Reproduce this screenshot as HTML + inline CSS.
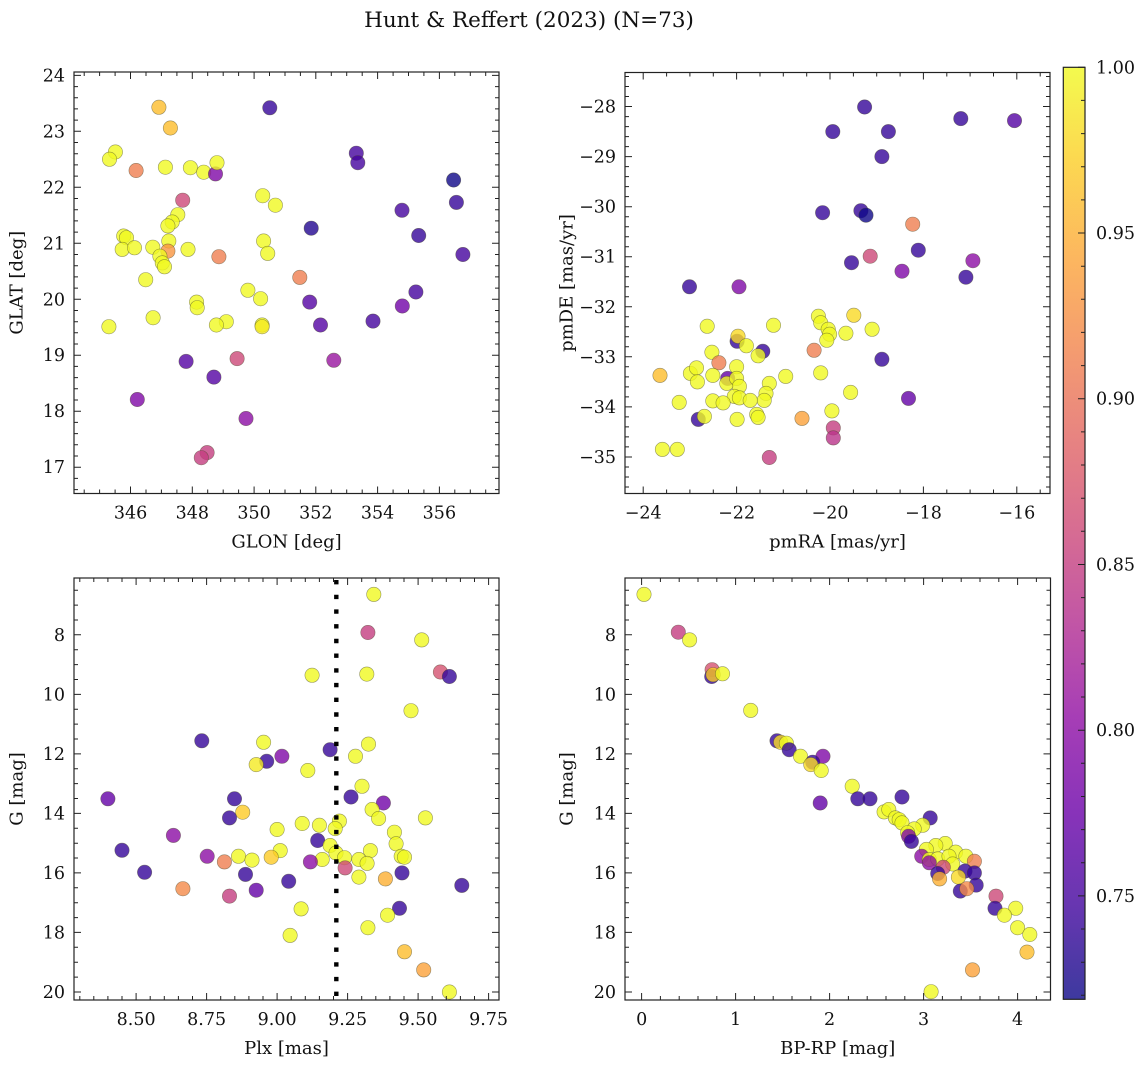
<!DOCTYPE html>
<html><head><meta charset="utf-8"><style>
html,body{margin:0;padding:0;background:#fff;}
svg{display:block;font-family:"DejaVu Serif","Liberation Serif",serif;}
</style></head><body>
<svg id="fig" width="1148" height="1067" viewBox="0 0 1148 1067" xmlns="http://www.w3.org/2000/svg">
<text x="529" y="27" font-size="21.5" text-anchor="middle" fill="#111">Hunt &amp; Reffert (2023) (N=73)</text>
</svg>
<script>
// ---- Panel 1: GLON / GLAT ----
const p1Glon=[346.92,350.51,347.29,345.51,345.32,353.31,353.36,346.18,347.13,347.94,348.37,348.75,348.80,356.46,350.28,350.69,347.69,356.55,354.79,347.53,347.35,347.21,351.85,355.33,345.78,345.87,347.24,350.31,345.73,346.13,346.72,347.21,347.86,350.44,356.76,348.86,346.95,347.03,347.10,351.48,346.49,349.80,350.21,355.24,351.80,348.14,348.16,354.80,346.73,349.10,348.78,350.26,350.26,352.15,353.85,345.30,347.80,349.45,352.58,348.70,346.22,349.74,348.48,348.29];
const p1Glat=[23.43,23.42,23.06,22.63,22.50,22.61,22.44,22.30,22.36,22.35,22.27,22.24,22.44,22.13,21.85,21.68,21.77,21.73,21.59,21.51,21.38,21.31,21.27,21.14,21.13,21.10,21.04,21.04,20.89,20.92,20.93,20.86,20.89,20.82,20.80,20.76,20.77,20.65,20.58,20.39,20.35,20.16,20.01,20.13,19.95,19.95,19.85,19.88,19.67,19.60,19.54,19.54,19.51,19.54,19.61,19.51,18.89,18.94,18.91,18.61,18.21,17.87,17.26,17.17];
const p1Prob=[0.96,0.74,0.96,1.0,1.0,0.75,0.75,0.91,1.0,1.0,1.0,0.79,1.0,0.72,1.0,1.0,0.86,0.74,0.75,1.0,1.0,1.0,0.73,0.74,1.0,1.0,1.0,1.0,1.0,1.0,1.0,0.93,1.0,1.0,0.75,0.91,1.0,1.0,1.0,0.91,1.0,1.0,1.0,0.75,0.76,1.0,1.0,0.78,1.0,1.0,1.0,1.0,0.99,0.76,0.75,1.0,0.76,0.86,0.81,0.76,0.79,0.80,0.85,0.85];
// ---- Panel 2: pmRA / pmDE ----
const p2Pmra=[-19.26,-19.94,-18.75,-17.20,-16.05,-18.89,-20.16,-19.34,-19.23,-18.23,-19.14,-18.11,-19.54,-18.46,-16.94,-17.09,-23.01,-21.95,-20.25,-20.20,-19.49,-22.63,-21.21,-20.04,-20.01,-19.66,-19.10,-20.07,-21.99,-21.97,-21.79,-21.44,-21.54,-22.53,-20.34,-18.89,-22.38,-23.64,-22.99,-22.86,-22.51,-22.00,-22.84,-22.19,-22.21,-22.00,-21.94,-21.30,-20.95,-20.20,-22.05,-21.94,-21.37,-21.41,-21.71,-22.51,-22.29,-23.23,-19.56,-18.32,-19.96,-22.82,-22.69,-21.57,-21.54,-21.99,-20.60,-19.93,-19.93,-23.59,-23.27,-21.30];
const p2Pmde=[-28.01,-28.50,-28.50,-28.24,-28.28,-29.00,-30.12,-30.08,-30.17,-30.35,-30.99,-30.87,-31.12,-31.29,-31.08,-31.41,-31.60,-31.60,-32.19,-32.32,-32.17,-32.39,-32.37,-32.45,-32.55,-32.53,-32.45,-32.67,-32.69,-32.59,-32.78,-32.89,-32.98,-32.91,-32.87,-33.05,-33.12,-33.37,-33.33,-33.22,-33.37,-33.20,-33.50,-33.43,-33.53,-33.43,-33.59,-33.53,-33.39,-33.32,-33.79,-33.82,-33.73,-33.87,-33.87,-33.88,-33.92,-33.91,-33.71,-33.83,-34.08,-34.25,-34.19,-34.15,-34.21,-34.25,-34.23,-34.42,-34.62,-34.85,-34.85,-35.01];
const p2Prob=[0.74,0.74,0.74,0.74,0.76,0.74,0.74,0.74,0.72,0.91,0.86,0.74,0.74,0.79,0.80,0.74,0.74,0.79,1.0,1.0,0.98,1.0,1.0,1.0,1.0,1.0,1.0,1.0,0.74,0.98,1.0,0.74,1.0,1.0,0.91,0.74,0.91,0.96,1.0,1.0,1.0,1.0,1.0,0.77,1.0,1.0,1.0,1.0,1.0,1.0,1.0,1.0,1.0,1.0,1.0,1.0,1.0,1.0,1.0,0.77,1.0,0.74,1.0,1.0,1.0,1.0,0.94,0.85,0.84,1.0,1.0,0.85];
// ---- Panel 3: Plx / G ----
const p3Plx=[9.343,9.322,9.513,9.124,9.318,9.579,9.611,9.475,8.733,8.952,9.324,9.188,9.017,8.963,8.926,9.278,9.109,9.301,8.400,8.849,9.262,9.377,9.337,8.878,9.360,9.526,8.831,9.221,9.089,9.150,9.206,9.000,9.416,8.632,9.422,9.144,9.188,9.331,8.450,9.011,9.209,8.752,8.863,8.979,9.239,9.440,9.452,8.911,9.160,9.290,8.813,9.118,9.319,9.241,8.530,9.443,8.888,9.290,9.384,9.041,9.655,8.666,8.926,8.831,9.434,9.085,9.392,9.046,9.322,9.452,9.520,9.611];
const p3G=[6.64,7.92,8.17,9.36,9.32,9.25,9.40,10.55,11.56,11.61,11.67,11.86,12.08,12.25,12.36,12.08,12.56,13.09,13.51,13.51,13.45,13.65,13.87,13.96,14.17,14.15,14.15,14.26,14.34,14.40,14.51,14.54,14.63,14.74,15.02,14.91,15.08,15.25,15.24,15.25,15.33,15.44,15.44,15.47,15.49,15.44,15.47,15.57,15.55,15.55,15.63,15.63,15.68,15.83,15.98,16.00,16.05,16.14,16.20,16.28,16.42,16.53,16.58,16.78,17.19,17.21,17.42,18.10,17.84,18.65,19.26,20.00];
const p3Prob=[1.0,0.85,1.0,1.0,1.0,0.87,0.74,1.0,0.74,1.0,1.0,0.74,0.79,0.74,0.99,1.0,1.0,1.0,0.77,0.74,0.74,0.78,1.0,0.97,1.0,1.0,0.74,1.0,1.0,1.0,1.0,1.0,1.0,0.80,1.0,0.74,1.0,1.0,0.74,1.0,1.0,0.80,1.0,0.97,1.0,1.0,1.0,1.0,1.0,1.0,0.91,0.80,1.0,0.86,0.74,0.74,0.74,1.0,0.95,0.74,0.74,0.92,0.77,0.85,0.74,1.0,1.0,1.0,1.0,0.96,0.94,1.0];
const p3PlxMedian=9.21;
// ---- Panel 4: BP-RP / G ----
const p4Bprp=[0.025,0.39,0.51,0.75,0.745,0.76,0.86,1.16,1.44,1.48,1.54,1.57,1.93,1.69,1.82,1.80,1.91,2.24,2.30,2.43,2.77,1.90,2.58,2.63,2.70,2.74,2.77,3.07,2.99,2.90,2.83,2.84,2.87,3.23,3.13,3.03,3.34,3.45,2.98,3.06,3.15,3.27,3.06,3.31,3.54,3.21,3.15,3.44,3.54,3.37,3.17,3.56,3.39,3.46,3.77,3.76,3.98,3.86,4.00,4.13,4.10,3.52,3.08];
const p4G=[6.64,7.91,8.17,9.17,9.40,9.34,9.31,10.54,11.56,11.61,11.64,11.86,12.08,12.08,12.28,12.36,12.56,13.09,13.51,13.51,13.45,13.65,13.95,13.87,14.15,14.21,14.32,14.15,14.40,14.52,14.65,14.77,14.94,15.01,15.08,15.21,15.30,15.44,15.44,15.55,15.53,15.44,15.66,15.70,15.61,15.81,16.02,15.94,16.00,16.14,16.20,16.41,16.61,16.53,16.78,17.19,17.19,17.42,17.84,18.07,18.66,19.26,19.99];
const p4Prob=[1.0,0.85,1.0,0.87,0.74,0.97,1.0,1.0,0.74,0.98,1.0,0.74,0.79,1.0,0.74,0.98,1.0,1.0,0.74,0.74,0.74,0.77,1.0,1.0,1.0,1.0,1.0,0.74,1.0,1.0,1.0,0.79,0.74,1.0,1.0,1.0,1.0,1.0,0.80,1.0,1.0,1.0,0.80,1.0,0.91,0.86,0.74,0.74,0.74,0.98,0.95,0.74,0.74,0.92,0.86,0.74,1.0,1.0,1.0,1.0,0.96,0.94,1.0];
// ---- Colorbar ----
const cbTicks=[0.75,0.80,0.85,0.90,0.95,1.00];
const cbMin=0.7188, cbMax=1.0;

const NS='http://www.w3.org/2000/svg';
const svg=document.getElementById('fig');
const plasma=[[13,8,135],[65,4,157],[106,0,168],[143,13,164],[177,42,144],[204,71,120],[225,100,98],[242,132,75],[252,166,54],[252,206,37],[240,249,33]];
function cmap(v){let t=(v-cbMin)/(cbMax-cbMin);t=Math.max(0,Math.min(1,t));const s=t*10,i=Math.min(9,Math.floor(s)),f=s-i;const a=plasma[i],b=plasma[i+1];return 'rgb('+[0,1,2].map(k=>Math.round(a[k]+(b[k]-a[k])*f)).join(',')+')';}
function mk(tag,attrs,parent){const e=document.createElementNS(NS,tag);for(const k in attrs)e.setAttribute(k,attrs[k]);(parent||svg).appendChild(e);return e;}

function panel(o){
  const g=mk('g',{});
  
  
  const sx=v=>o.x0+(v-o.xmin)/(o.xmax-o.xmin)*(o.x1-o.x0);
  const sy=v=>o.inv? o.y0+(v-o.ymin)/(o.ymax-o.ymin)*(o.y1-o.y0) : o.y1-(v-o.ymin)/(o.ymax-o.ymin)*(o.y1-o.y0);
  const pg=mk('g',{},g);
  
  
  for(let i=0;i<o.xs.length;i++){
    const c=mk('circle',{cx:sx(o.xs[i]).toFixed(1),cy:sy(o.ys[i]).toFixed(1),r:7.2,fill:cmap(o.cs[i]),'fill-opacity':0.8,stroke:'rgba(70,70,40,0.55)','stroke-width':0.6},pg);
    
    
  }
  if(o.vline!==undefined){
    const l=mk('line',{x1:sx(o.vline),x2:sx(o.vline),y1:o.y0+2,y2:o.y1,stroke:'#000','stroke-width':4.4,'stroke-dasharray':'4.4,10.3'},g);
    
    
  }
  const fr=mk('rect',{x:o.x0,y:o.y0,width:o.x1-o.x0,height:o.y1-o.y0,fill:'none',stroke:'#222','stroke-width':1.2},g);
  
  
  let d='';
  const eps=1e-6;
  for(let v=Math.ceil(o.xmin/o.xminor-eps)*o.xminor;v<=o.xmax+eps;v+=o.xminor){
    const isMaj=Math.abs(v/o.xmajor-Math.round(v/o.xmajor))<1e-4;const L=isMaj?7:4;const x=sx(v).toFixed(1);
    d+=`M${x},${o.y1}v${-L}M${x},${o.y0}v${L}`;
  }
  for(let v=Math.ceil(o.ymin/o.yminor-eps)*o.yminor;v<=o.ymax+eps;v+=o.yminor){
    const isMaj=Math.abs(v/o.ymajor-Math.round(v/o.ymajor))<1e-4;const L=isMaj?7:4;const y=sy(v).toFixed(1);
    d+=`M${o.x0},${y}h${L}M${o.x1},${y}h${-L}`;
  }
  const tp=mk('path',{d:d,stroke:'#222','stroke-width':1,fill:'none'},g);
  
  
  for(let i=0;i<o.xticks.length;i++){
    const t=mk('text',{x:sx(o.xticks[i]),y:o.y1+25,'font-size':17.5,'text-anchor':'middle',fill:'#111'},g);
    t.textContent=o.xlabels[i];
    
    
  }
  for(let i=0;i<o.yticks.length;i++){
    const t=mk('text',{x:o.x0-9,y:sy(o.yticks[i])+6,'font-size':17.5,'text-anchor':'end',fill:'#111'},g);
    t.textContent=o.ylabels[i];
    
    
  }
  const xt=mk('text',{x:(o.x0+o.x1)/2,y:o.y1+54,'font-size':18,'text-anchor':'middle',fill:'#111'},g);
  xt.textContent=o.xtitle;
  
  
  const yc=(o.y0+o.y1)/2;
  const yt=mk('text',{x:o.ytx,y:yc,'font-size':18,'text-anchor':'middle',fill:'#111',transform:`rotate(-90 ${o.ytx} ${yc})`,'dominant-baseline':'central'},g);
  yt.textContent=o.ytitle;
  
  
}
const minus=s=>String(s).replace('-','\u2212');
panel({name:'glon-glat-panel',x0:74,x1:499,y0:72,y1:493.5,xmin:344.17,xmax:357.93,ymin:16.53,ymax:24.06,
  xmajor:2,xminor:0.5,ymajor:1,yminor:0.2,xs:p1Glon,ys:p1Glat,cs:p1Prob,
  xticks:[346,348,350,352,354,356],xlabels:['346','348','350','352','354','356'],
  yticks:[17,18,19,20,21,22,23,24],ylabels:['17','18','19','20','21','22','23','24'],
  xtitle:'GLON [deg]',ytitle:'GLAT [deg]',ytx:17});
panel({name:'proper-motion-panel',x0:625,x1:1050,y0:72.5,y1:493.5,xmin:-24.39,xmax:-15.29,ymin:-35.73,ymax:-27.32,
  xmajor:2,xminor:0.5,ymajor:1,yminor:0.2,xs:p2Pmra,ys:p2Pmde,cs:p2Prob,
  xticks:[-24,-22,-20,-18,-16],xlabels:['-24','-22','-20','-18','-16'].map(minus),
  yticks:[-35,-34,-33,-32,-31,-30,-29,-28],ylabels:['-35','-34','-33','-32','-31','-30','-29','-28'].map(minus),
  xtitle:'pmRA [mas/yr]',ytitle:'pmDE [mas/yr]',ytx:567});
panel({name:'parallax-magnitude-panel',x0:74,x1:499,y0:578,y1:1000,xmin:8.2796,xmax:9.787,ymin:6.09,ymax:20.27,inv:true,
  xmajor:0.25,xminor:0.05,ymajor:2,yminor:0.5,xs:p3Plx,ys:p3G,cs:p3Prob,vline:p3PlxMedian,
  xticks:[8.5,8.75,9.0,9.25,9.5,9.75],xlabels:['8.50','8.75','9.00','9.25','9.50','9.75'],
  yticks:[8,10,12,14,16,18,20],ylabels:['8','10','12','14','16','18','20'],
  xtitle:'Plx [mas]',ytitle:'G [mag]',ytx:17});
panel({name:'color-magnitude-panel',x0:625,x1:1050.5,y0:578,y1:1000,xmin:-0.177,xmax:4.35,ymin:6.09,ymax:20.27,inv:true,
  xmajor:1,xminor:0.2,ymajor:2,yminor:0.5,xs:p4Bprp,ys:p4G,cs:p4Prob,
  xticks:[0,1,2,3,4],xlabels:['0','1','2','3','4'],
  yticks:[8,10,12,14,16,18,20],ylabels:['8','10','12','14','16','18','20'],
  xtitle:'BP-RP [mag]',ytitle:'G [mag]',ytx:567});

(function(){
  const x0=1063.3,x1=1085,y0=67.3,y1=999.3;
  const cg=mk('g',{});
  
  
  const defs=mk('defs',{},cg);
  const lg=mk('linearGradient',{id:'cbg',x1:0,y1:1,x2:0,y2:0},defs);
  for(let i=0;i<=10;i++){mk('stop',{offset:(i*10)+'%','stop-color':'rgb('+plasma[i].join(',')+')','stop-opacity':0.8},lg);}
  const r=mk('rect',{x:x0,y:y0,width:x1-x0,height:y1-y0,fill:'url(#cbg)',stroke:'#222','stroke-width':1.2},cg);
  
  
  const sy=v=>y1-(v-cbMin)/(cbMax-cbMin)*(y1-y0);
  let d='';
  for(let k=72;k<=100;k++){const v=k/100;const maj=k%5===0;const y=sy(v).toFixed(1);d+=`M${x1},${y}h${maj?-7:-4}`;}
  const tp=mk('path',{d:d,stroke:'#222','stroke-width':1,fill:'none'},cg);
  
  
  for(const v of cbTicks){
    const t=mk('text',{x:x1+11,y:sy(v)+6,'font-size':17.5,fill:'#111'},cg);
    t.textContent=v.toFixed(2);
    
    
  }
})();
</script>
</body></html>
